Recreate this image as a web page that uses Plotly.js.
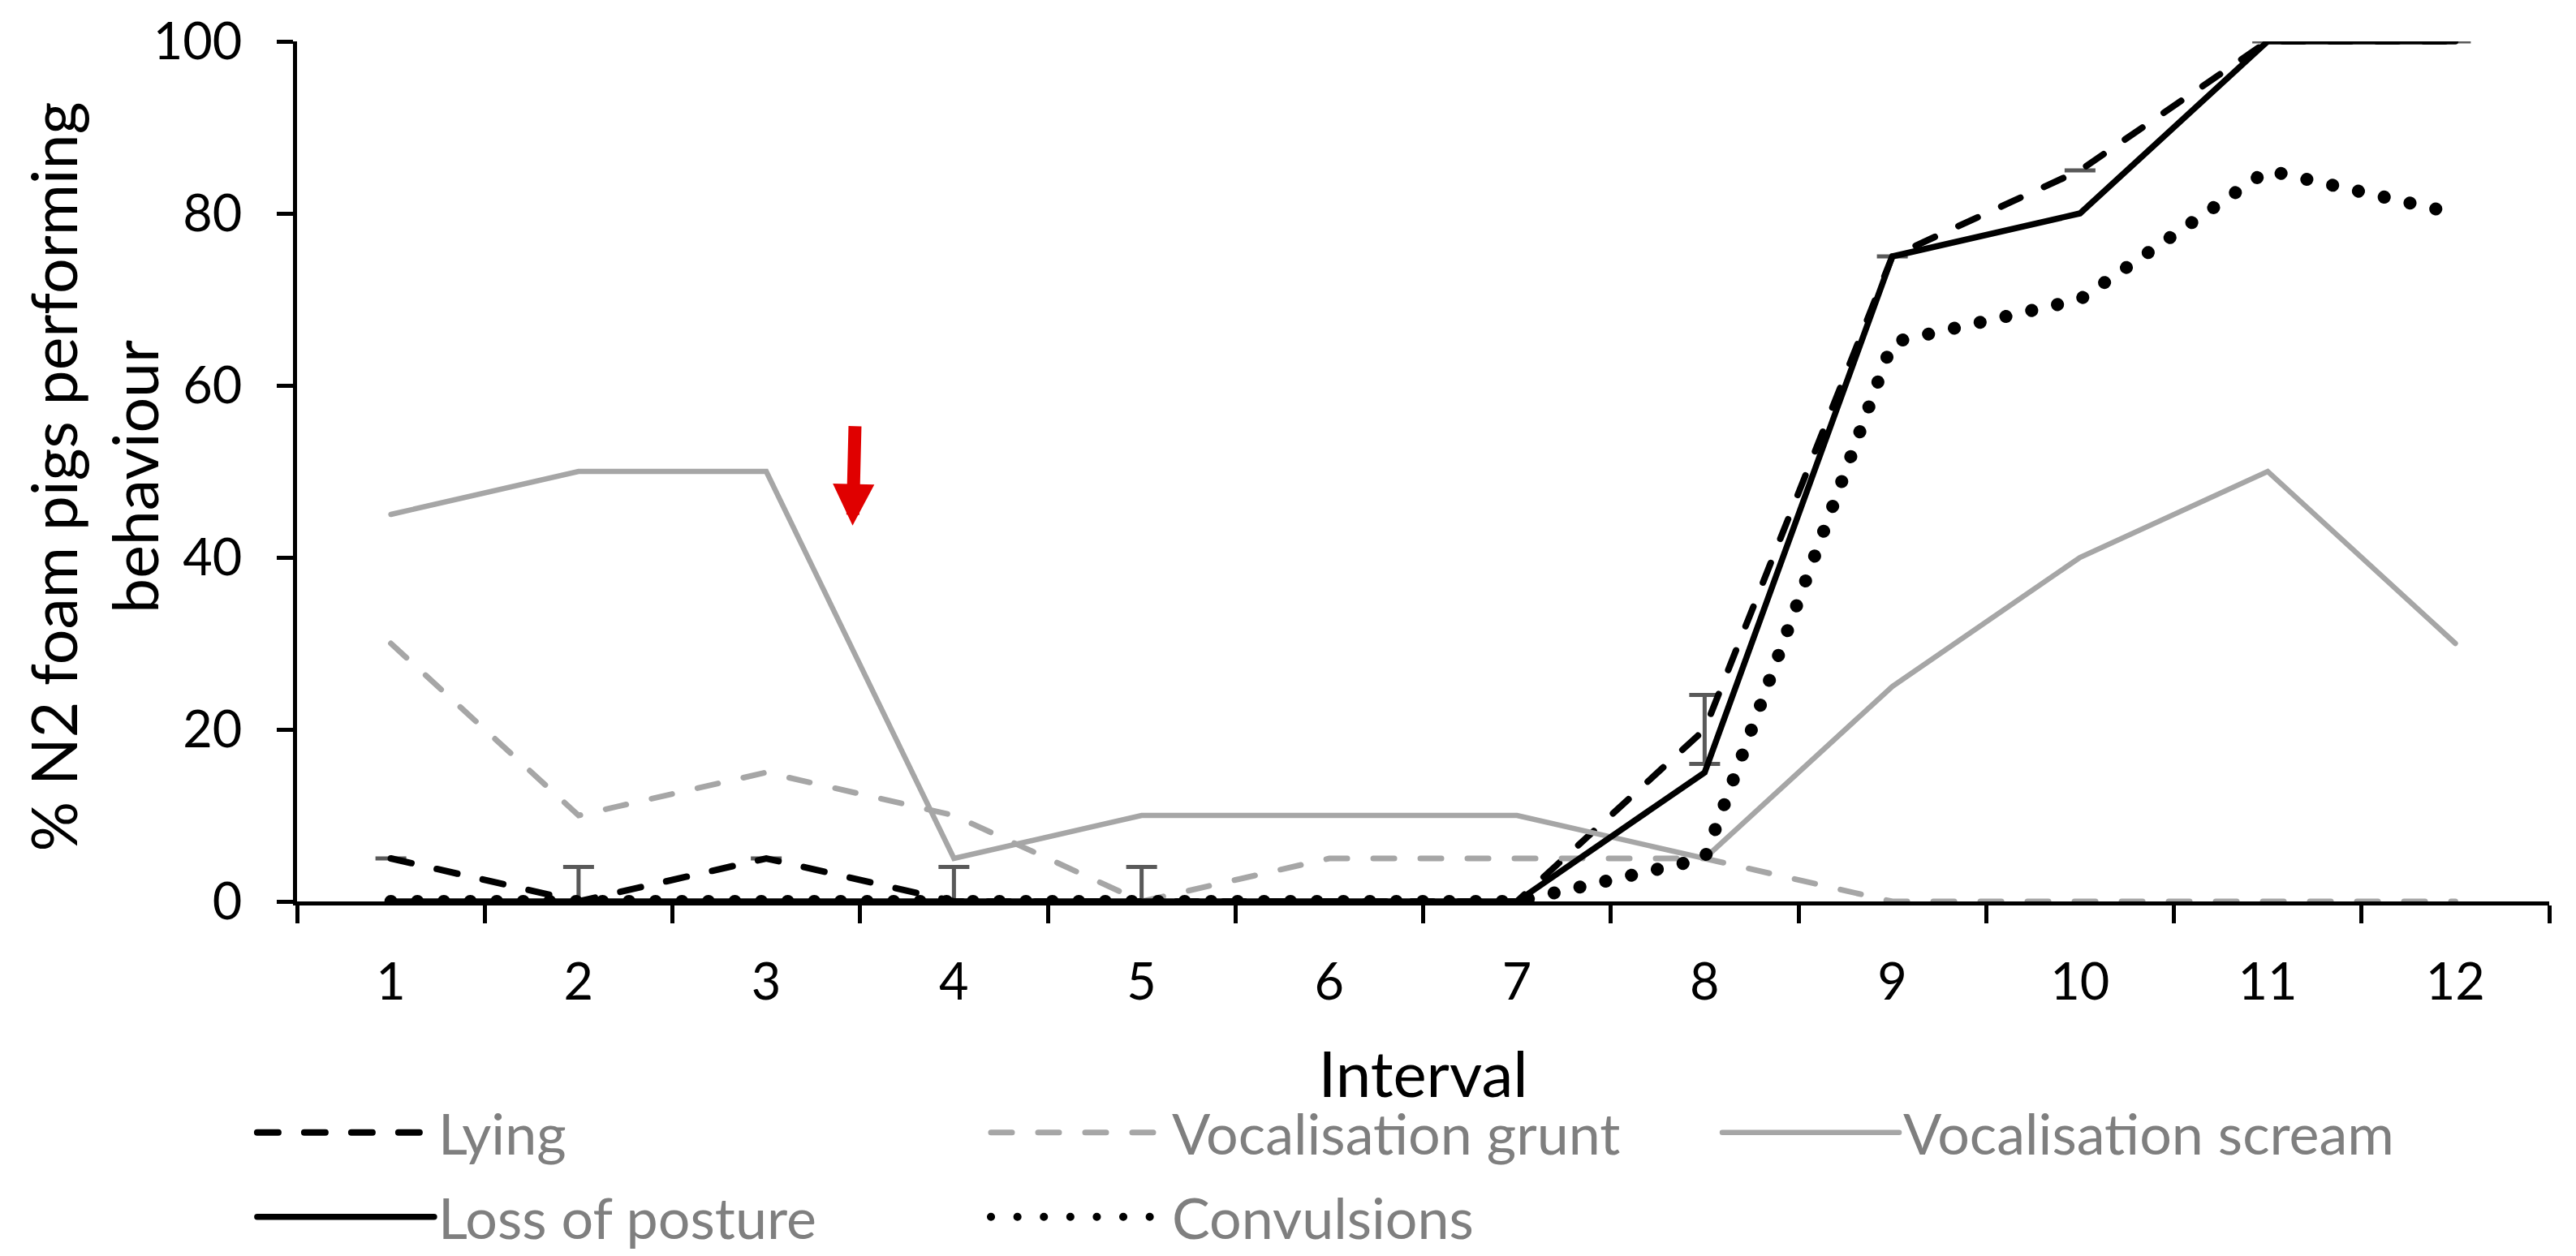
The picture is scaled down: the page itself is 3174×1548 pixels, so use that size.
<!DOCTYPE html>
<html>
<head>
<meta charset="utf-8">
<script src="https://cdn.plot.ly/plotly-3.0.1.min.js"></script>
<style>
html,body{margin:0;padding:0;background:#fff;}
#chart{width:3174px;height:1548px;}
.js-line{stroke-linecap:round;}
.cartesianlayer .plot, .cartesianlayer .plot *{clip-path:none !important;}
</style>
</head>
<body>
<div id="chart"></div>
<script>
// ---- data ----
const intervals = ['1','2','3','4','5','6','7','8','9','10','11','12'];
const lying          = [5, 0, 5, 0, 0, 0, 0, 20, 75, 85, 100, 100];
const lyingErrPlus   = [0, 4, 0, 4, 4, 0, 0, 4, 0, 0, 0, 0];
const lyingErrMinus  = [0, 0, 0, 0, 0, 0, 0, 4, 0, 0, 0, 0];
const grunt          = [30, 10, 15, 10, 0, 5, 5, 5, 0, 0, 0, 0];
const scream         = [45, 50, 50, 5, 10, 10, 10, 5, 25, 40, 50, 30];
const lossOfPosture  = [0, 0, 0, 0, 0, 0, 0, 15, 75, 80, 100, 100];
const convulsions    = [0, 0, 0, 0, 0, 0, 0, 5, 65, 70, 85, 80];
const seriesNames = ['Lying', 'Vocalisation grunt', 'Vocalisation scream', 'Loss of posture', 'Convulsions'];
const yTicks = [0, 20, 40, 60, 80, 100];
const xTitle = 'Interval';
const yTitle = '% N2 foam pigs performing<br>behaviour';

const FONT = 'Lato, "Open Sans", sans-serif';

const traces = [
  { name: seriesNames[0], x: intervals, y: lying, type: 'scatter', mode: 'lines',
    line: { color: '#000000', width: 8, dash: '26px,32px' },
    error_y: { type: 'data', symmetric: false, array: lyingErrPlus, arrayminus: lyingErrMinus,
               color: '#595959', thickness: 5, width: 19 },
    legend: 'legend', legendgroup: 'g1' },
  { name: seriesNames[1], x: intervals, y: grunt, type: 'scatter', mode: 'lines',
    line: { color: '#a6a6a6', width: 7, dash: '26px,32px' },
    legend: 'legend2', legendgroup: 'g2' },
  { name: seriesNames[2], x: intervals, y: scream, type: 'scatter', mode: 'lines',
    line: { color: '#a6a6a6', width: 6.5 },
    legend: 'legend3', legendgroup: 'g3' },
  { name: seriesNames[3], x: intervals, y: lossOfPosture, type: 'scatter', mode: 'lines',
    line: { color: '#000000', width: 7.5 },
    legend: 'legend', legendgroup: 'g4' },
  { name: seriesNames[4], x: intervals, y: convulsions, type: 'scatter', mode: 'lines',
    line: { color: '#000000', width: 16, dash: '0.1px,32.5px' },
    legend: 'legend2', legendgroup: 'g5' }
];

const legendCommon = {
  orientation: 'v', traceorder: 'grouped', tracegroupgap: 10,
  itemwidth: 218, yanchor: 'top', xanchor: 'left', y: -0.2195,
  bgcolor: 'rgba(0,0,0,0)', borderwidth: 0,
  font: { family: FONT, size: 70, color: '#7f7f7f' },
  itemclick: false, itemdoubleclick: false
};

const layout = {
  width: 3174, height: 1548,
  margin: { l: 366, r: 33, t: 51, b: 437, autoexpand: false },
  paper_bgcolor: '#ffffff', plot_bgcolor: '#ffffff',
  font: { family: FONT, color: '#000000' },
  showlegend: true,
  xaxis: {
    type: 'category', categoryorder: 'array', categoryarray: intervals,
    range: [-0.5, 11.5], tickson: 'boundaries',
    ticks: 'outside', ticklen: 22, tickwidth: 5, tickcolor: '#000000',
    showline: true, linewidth: 5, linecolor: '#000000', layer: 'below traces',
    showgrid: false, zeroline: false,
    tickfont: { family: FONT, size: 63, color: '#000000' },
    ticklabelstandoff: 40,
    title: { text: xTitle, font: { family: FONT, size: 78, color: '#000000' }, standoff: 55 }
  },
  yaxis: {
    range: [0, 100], tickmode: 'array', tickvals: yTicks, ticktext: yTicks.map(String),
    ticks: 'outside', ticklen: 20, tickwidth: 5, tickcolor: '#000000',
    showline: true, linewidth: 5, linecolor: '#000000', layer: 'below traces',
    showgrid: false, zeroline: false,
    tickfont: { family: FONT, size: 63, color: '#000000' },
    ticklabelstandoff: 30
  },
  legend:  Object.assign({}, legendCommon, { x: -0.0195 }),
  legend2: Object.assign({}, legendCommon, { x: 0.3063 }),
  legend3: Object.assign({}, legendCommon, { x: 0.6310 }),
  annotations: [
    {
      x: -0.0904, y: 0.494, xref: 'paper', yref: 'paper', xanchor: 'center', yanchor: 'middle',
      text: yTitle, textangle: -90, showarrow: false,
      font: { family: FONT, size: 77, color: '#000000' }
    },
    {
      x: 2.46, y: 43.7, xref: 'x', yref: 'y', text: '', showarrow: true,
      ax: 3, ay: -124, arrowhead: 2, arrowsize: 0.64, arrowwidth: 16, arrowcolor: '#e00000'
    }
  ]
};

Plotly.newPlot('chart', traces, layout, { displayModeBar: false, staticPlot: true });
</script>
</body>
</html>
